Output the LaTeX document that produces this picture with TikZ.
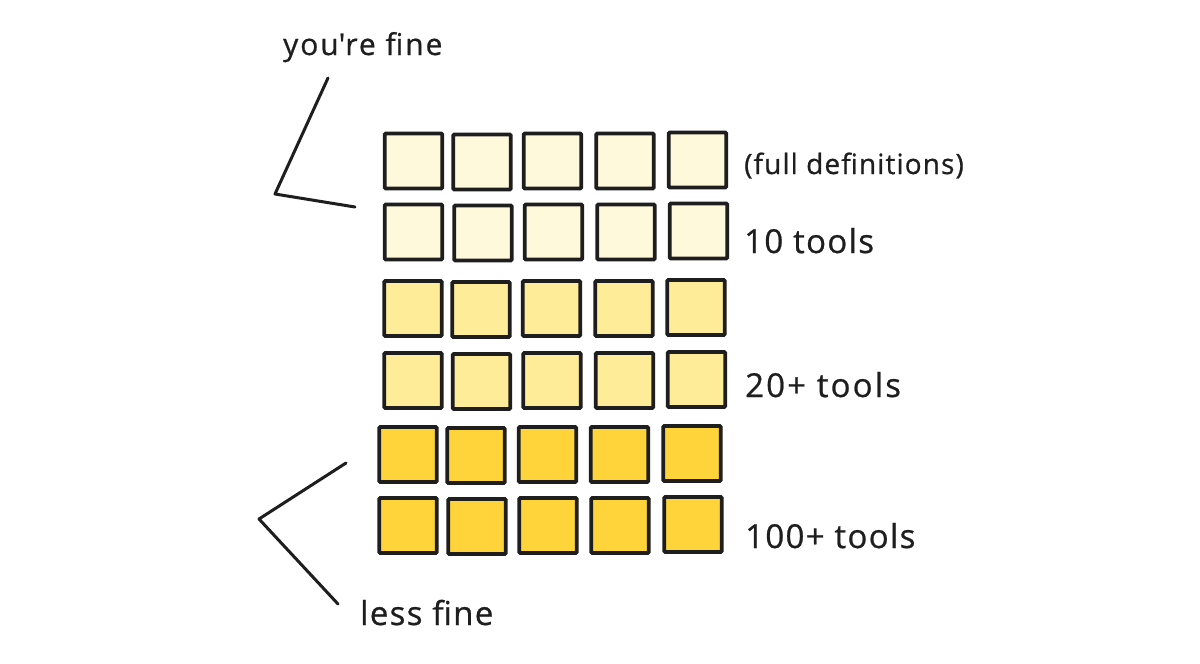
\documentclass[tikz,border=0pt]{standalone}
\usepackage{fontspec}
\setmainfont{Open Sans}
\newfontfamily\hand[LetterSpace=4,FakeBold=0.7]{Open Sans}
\newfontfamily\handwide[LetterSpace=6.5,FakeBold=0.7]{Open Sans}
\definecolor{ink}{HTML}{1E1E1E}
\definecolor{paleY}{HTML}{FFF9DB}
\definecolor{midY}{HTML}{FFEC99}
\definecolor{deepY}{HTML}{FFD43B}
\begin{document}
\begin{tikzpicture}[x=1pt,y=-1pt,
  box/.style={draw=ink,line width=3.9pt,minimum width=57.5pt,minimum height=55pt,inner sep=0pt,rounded corners=1.2pt},
  lbl/.style={anchor=base west,inner sep=0pt,text=ink,font=\hand\fontsize{33}{38}\selectfont},
  smalllbl/.style={anchor=base west,inner sep=0pt,text=ink,font=\hand\fontsize{28}{32}\selectfont},
  stroke/.style={draw=ink,line width=3pt,line cap=round,line join=round}]
\useasboundingbox[fill=white] (0,0) rectangle (1200,664);
% row 1
\node[box,fill=paleY] (r1c1) at (413.5,161) {};
\node[box,fill=paleY] (r1c2) at (482,162) {};
\node[box,fill=paleY] (r1c3) at (552.5,161) {};
\node[box,fill=paleY] (r1c4) at (625,161) {};
\node[box,fill=paleY] (r1c5) at (697.5,160) {};
% row 2
\node[box,fill=paleY] (r2c1) at (413.5,232) {};
\node[box,fill=paleY] (r2c2) at (483,233) {};
\node[box,fill=paleY] (r2c3) at (553.5,232) {};
\node[box,fill=paleY] (r2c4) at (626,232) {};
\node[box,fill=paleY] (r2c5) at (698.5,231) {};
% row 3
\node[box,fill=midY] (r3c1) at (413,308.5) {};
\node[box,fill=midY] (r3c2) at (481,309.5) {};
\node[box,fill=midY] (r3c3) at (551.5,308.5) {};
\node[box,fill=midY] (r3c4) at (624,308.5) {};
\node[box,fill=midY] (r3c5) at (696,307.5) {};
% row 4
\node[box,fill=midY] (r4c1) at (413,380.5) {};
\node[box,fill=midY] (r4c2) at (481.5,381.5) {};
\node[box,fill=midY] (r4c3) at (552,380.5) {};
\node[box,fill=midY] (r4c4) at (624.5,380.5) {};
\node[box,fill=midY] (r4c5) at (696.5,379.5) {};
% row 5
\node[box,fill=deepY] (r5c1) at (408,454.5) {};
\node[box,fill=deepY] (r5c2) at (476,455.5) {};
\node[box,fill=deepY] (r5c3) at (547.5,454.5) {};
\node[box,fill=deepY] (r5c4) at (619.5,454.5) {};
\node[box,fill=deepY] (r5c5) at (692,453.5) {};
% row 6
\node[box,fill=deepY] (r6c1) at (408,525.5) {};
\node[box,fill=deepY] (r6c2) at (477,526.5) {};
\node[box,fill=deepY] (r6c3) at (548,525.5) {};
\node[box,fill=deepY] (r6c4) at (620,525.5) {};
\node[box,fill=deepY] (r6c5) at (693,524.5) {};
% labels
\node[smalllbl] (fulldef) at (744,174) {(full definitions)};
\node[lbl] (ten) at (744,253) {10 tools};
\node[lbl,font=\handwide\fontsize{33}{38}\selectfont] (twenty) at (745,397) {20+ tools};
\node[lbl] (hundred) at (745,548) {100+ tools};
\node[anchor=base west,inner sep=0pt,text=ink,font=\handwide\fontsize{30}{34}\selectfont] (fine) at (283,55) {you\textquotesingle re fine};
\node[lbl] (lessfine) at (360,625) {less fine};
% brackets
\coordinate (a1) at (328,78);
\coordinate (a2) at (275,194);
\coordinate (a3) at (355,207);
\draw[stroke] (a1) -- (a2) -- (a3);
\coordinate (b1) at (346,463);
\coordinate (b2) at (259,519);
\coordinate (b3) at (338,604);
\draw[stroke] (b1) -- (b2) -- (b3);
\end{tikzpicture}
\end{document}
